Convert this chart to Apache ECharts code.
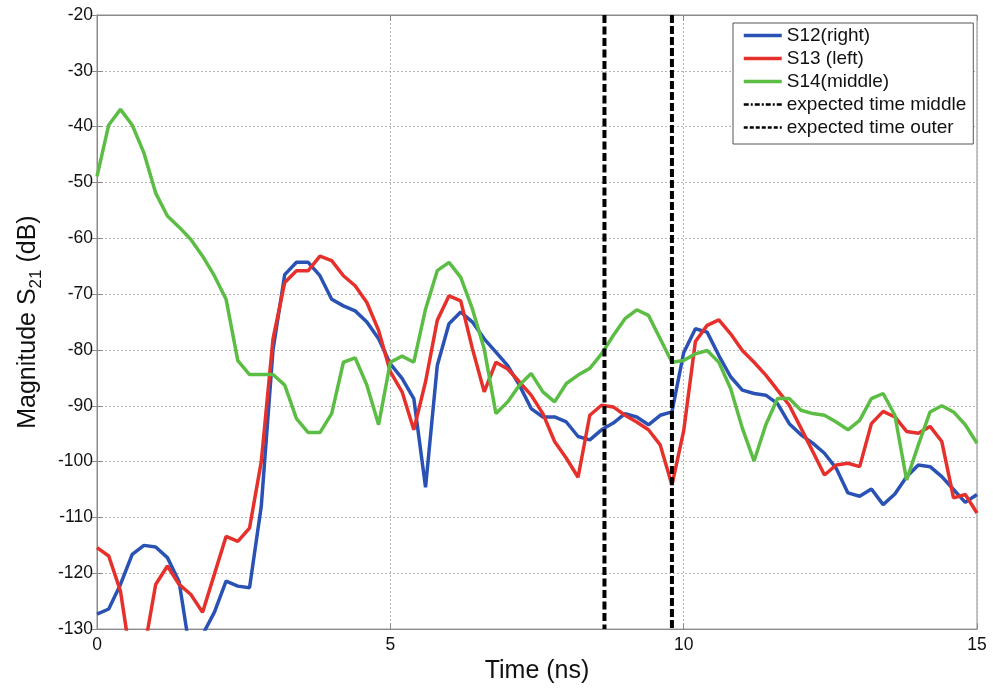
<!DOCTYPE html>
<html>
<head>
<meta charset="utf-8">
<script src="https://cdn.jsdelivr.net/npm/echarts@6/dist/echarts.min.js"></script>
<style>
  html, body { margin: 0; padding: 0; background: #fff; }
  #chart { width: 993px; height: 689px; }
</style>
</head>
<body>
<div id="chart"></div>
<script>
// Time samples (ns), 0.2 ns step
const timeNs = [];
for (let i = 0; i <= 75; i++) timeNs.push(+(i * 0.2).toFixed(1));

// Transmission magnitude, dB
const s12Right = [
  -127.3, -126.4, -122.0, -116.6, -115.0, -115.3, -117.2, -121.5, -135.0, -131.0,
  -127.0, -121.4, -122.3, -122.6, -108.0, -80.0, -66.5, -64.3, -64.3, -66.7,
  -70.9, -72.1, -73.0, -75.0, -78.0, -82.5, -85.1, -88.7, -104.6, -82.8,
  -75.3, -73.2, -75.0, -78.0, -80.4, -82.8, -86.3, -90.5, -92.0, -92.0,
  -92.9, -95.5, -96.1, -94.3, -93.1, -91.4, -92.0, -93.4, -91.7, -91.1,
  -80.5, -76.2, -76.8, -81.0, -84.8, -87.2, -87.8, -88.1, -89.6, -93.2,
  -95.2, -96.7, -98.5, -101.2, -105.6, -106.2, -104.9, -107.7, -105.8, -102.7,
  -100.6, -100.9, -102.7, -105.0, -107.3, -105.9
];
const s13Left = [
  -115.4, -116.9, -123.2, -137.0, -134.0, -122.0, -118.7, -122.0, -123.8, -127.0,
  -120.2, -113.4, -114.3, -111.9, -100.0, -78.0, -67.9, -65.8, -65.8, -63.2,
  -64.0, -66.7, -68.5, -71.5, -76.5, -83.9, -87.5, -94.3, -85.7, -74.7,
  -70.3, -71.2, -79.8, -87.5, -82.2, -83.4, -85.7, -88.1, -91.4, -96.4,
  -99.4, -102.8, -91.7, -89.9, -90.2, -91.7, -92.9, -94.3, -97.0, -104.2,
  -94.5, -78.5, -75.6, -74.6, -77.1, -80.1, -82.2, -84.5, -87.2, -89.9,
  -94.0, -98.2, -102.4, -100.6, -100.3, -100.9, -93.2, -91.0, -92.0, -94.6,
  -94.9, -93.7, -96.4, -106.5, -105.9, -109.2
];
const s14Middle = [
  -48.9, -39.7, -36.9, -39.7, -44.7, -51.9, -56.0, -58.0, -60.2, -63.2,
  -66.7, -70.9, -81.9, -84.4, -84.4, -84.4, -86.3, -92.3, -94.8, -94.8,
  -91.4, -82.2, -81.4, -86.3, -93.4, -82.2, -81.1, -82.2, -72.7, -65.8,
  -64.3, -67.0, -72.7, -79.8, -91.4, -89.3, -86.3, -84.2, -87.5, -89.3,
  -86.0, -84.5, -83.3, -80.7, -77.4, -74.4, -72.8, -73.8, -78.0, -82.2,
  -81.9, -80.7, -80.1, -82.2, -86.9, -94.0, -99.9, -93.4, -88.7, -88.7,
  -90.8, -91.4, -91.7, -92.9, -94.3, -92.6, -88.7, -87.8, -91.7, -103.3,
  -97.0, -91.1, -90.0, -91.1, -93.4, -96.7
];

// Expected arrival times (ns)
const expectedMiddle = 8.65;
const expectedOuter = 9.8;

const yMin = -130, yMax = -20;

const pairs = vals => timeNs.map((t, i) => [t, vals[i]]);
const vline = t => [[t, yMax], [t, yMin]];

const FONT = '"Liberation Sans", Arial, sans-serif';
const AXIS_GREY = '#8a8a8a';
const GRID_DOT = { color: '#b4b4b4', type: [2, 2], width: 1 };
const BLUE = '#2a52b4', RED = '#e5302b', GREEN = '#5cbd45';

const chart = echarts.init(document.getElementById('chart'), null, { renderer: 'canvas' });

const curve = (name, vals, color) => ({
  name, type: 'line', data: pairs(vals),
  showSymbol: false, symbol: 'none', clip: true,
  lineStyle: { color, width: 3.5 }, itemStyle: { color },
  animation: false, z: 3
});

// box axes on the top and right: inward ticks only
const boxAxis = {
  axisLine: { show: true, lineStyle: { color: AXIS_GREY } },
  axisTick: { show: true, inside: true, length: 6, lineStyle: { color: AXIS_GREY } },
  axisLabel: { show: false },
  splitLine: { show: false }
};

chart.setOption({
  animation: false,
  backgroundColor: '#fff',
  grid: {
    left: 97, right: 16, top: 15, bottom: 57,
    show: true, borderColor: AXIS_GREY, borderWidth: 1
  },
  xAxis: [{
    type: 'value', min: 0, max: 15, interval: 5, position: 'bottom',
    name: 'Time (ns)', nameLocation: 'middle', nameGap: 21,
    nameTextStyle: { fontSize: 25, lineHeight: 25, color: '#111', fontFamily: FONT },
    axisLine: { show: true, lineStyle: { color: AXIS_GREY } },
    axisTick: { show: true, inside: true, length: 6, lineStyle: { color: AXIS_GREY } },
    axisLabel: { fontSize: 17.5, color: '#111', fontFamily: FONT, margin: 7 },
    splitLine: { show: true, lineStyle: GRID_DOT }
  }, Object.assign({
    type: 'value', min: 0, max: 15, interval: 5, position: 'top'
  }, boxAxis)],
  yAxis: [{
    type: 'value', min: yMin, max: yMax, interval: 10, position: 'left',
    name: '{n|Magnitude S}{s|21}{n| (dB)}', nameLocation: 'middle', nameGap: 52,
    nameTextStyle: {
      fontFamily: FONT, color: '#111', lineHeight: 34,
      rich: {
        n: { fontSize: 25, lineHeight: 34, fontFamily: FONT, color: '#111' },
        s: { fontSize: 17, lineHeight: 34, fontFamily: FONT, color: '#111', verticalAlign: 'bottom' }
      }
    },
    axisLine: { show: true, lineStyle: { color: AXIS_GREY } },
    axisTick: { show: true, inside: true, length: 6, lineStyle: { color: AXIS_GREY } },
    axisLabel: { fontSize: 17.5, color: '#111', fontFamily: FONT, margin: 4 },
    splitLine: { show: true, lineStyle: GRID_DOT }
  }, Object.assign({
    type: 'value', min: yMin, max: yMax, interval: 10, position: 'right'
  }, boxAxis)],
  legend: {
    orient: 'vertical', left: 733, top: 23,
    itemWidth: 38, itemHeight: 14, itemGap: 4,
    padding: [3, 7, 7, 9],
    borderColor: '#555', borderWidth: 1, backgroundColor: '#fff',
    itemStyle: { opacity: 0 },
    textStyle: { fontSize: 19, lineHeight: 19, color: '#111', fontFamily: FONT },
    data: [
      { name: 'S12(right)', lineStyle: { color: BLUE, width: 3.5 } },
      { name: 'S13 (left)', lineStyle: { color: RED, width: 3.5 } },
      { name: 'S14(middle)', lineStyle: { color: GREEN, width: 3.5 } },
      { name: 'expected time middle', lineStyle: { color: '#000', width: 2.5, type: [5, 2, 2, 2] } },
      { name: 'expected time outer', lineStyle: { color: '#000', width: 2.5, type: [4, 2] } }
    ]
  },
  series: [
    curve('S12(right)', s12Right, BLUE),
    curve('S13 (left)', s13Left, RED),
    curve('S14(middle)', s14Middle, GREEN),
    {
      name: 'expected time middle', type: 'line', data: vline(expectedMiddle),
      showSymbol: false, symbol: 'none', animation: false, z: 4,
      lineStyle: { color: '#000', width: 4, type: [8, 3.5] }, itemStyle: { color: '#000' }
    },
    {
      name: 'expected time outer', type: 'line', data: vline(expectedOuter),
      showSymbol: false, symbol: 'none', animation: false, z: 4,
      lineStyle: { color: '#000', width: 4, type: [8, 3] }, itemStyle: { color: '#000' }
    }
  ]
});
</script>
</body>
</html>
